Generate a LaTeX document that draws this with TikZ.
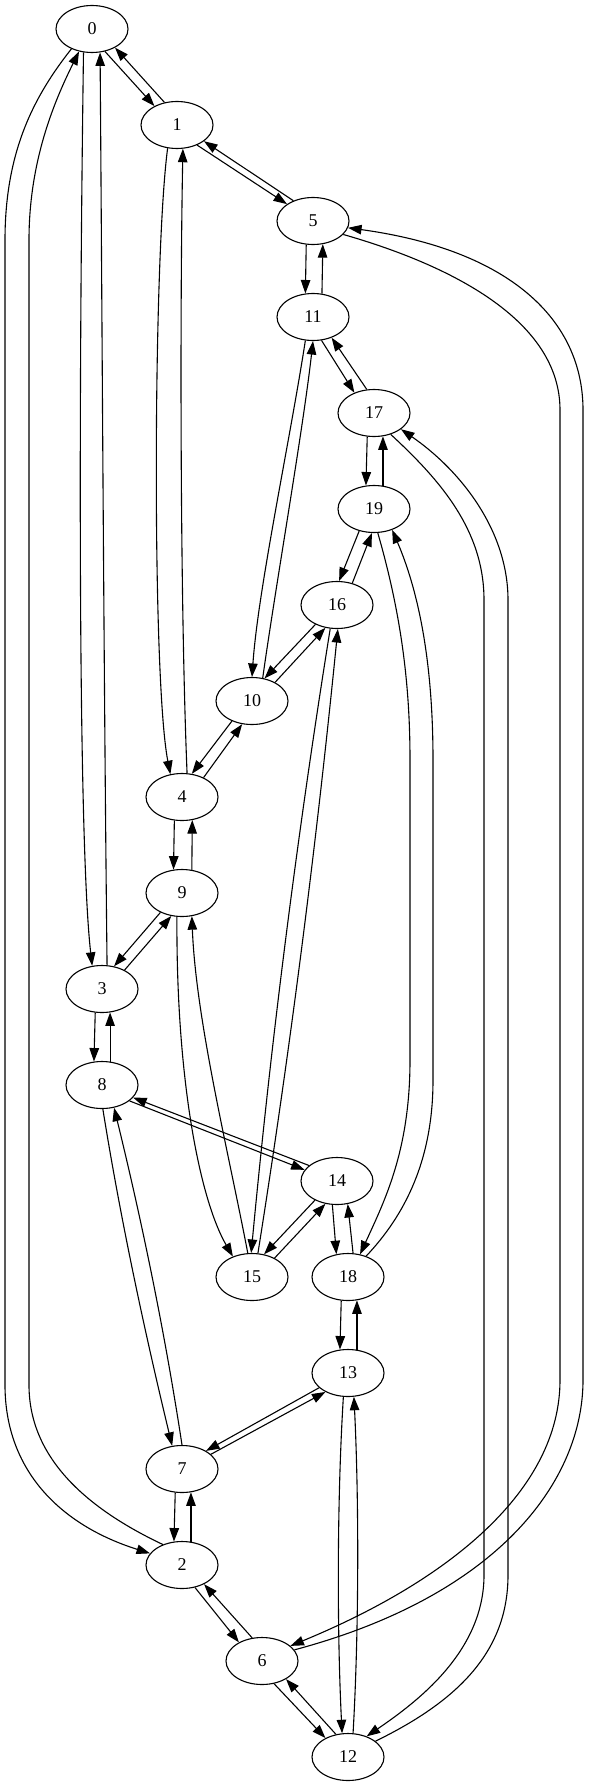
\documentclass[tikz,border=0pt]{standalone}
\usepackage{fontspec}
\setmainfont{Liberation Serif}
\usetikzlibrary{arrows.meta,shapes.geometric}
\begin{document}
\begin{tikzpicture}[x=1pt,y=-1pt,
  vtx/.style={draw,ellipse,minimum width=72pt,minimum height=47pt,inner sep=0pt,line width=1.1pt,font=\fontsize{18}{20}\selectfont},
  e/.style={draw,line width=1.1pt,-{Triangle[length=13.5pt,width=9.5pt]}}]
\useasboundingbox (0,0) rectangle (589,1787);
\node[vtx] (n0) at (92,29) {0};
\node[vtx] (n1) at (177,125) {1};
\node[vtx] (n5) at (313,221) {5};
\node[vtx] (n11) at (313,317) {11};
\node[vtx] (n17) at (374,413) {17};
\node[vtx] (n19) at (374,509) {19};
\node[vtx] (n16) at (337,605) {16};
\node[vtx] (n10) at (252,701) {10};
\node[vtx] (n4) at (182,797) {4};
\node[vtx] (n9) at (182,893) {9};
\node[vtx] (n3) at (102,989) {3};
\node[vtx] (n8) at (102,1085) {8};
\node[vtx] (n14) at (337,1181) {14};
\node[vtx] (n15) at (252,1277) {15};
\node[vtx] (n18) at (348,1277) {18};
\node[vtx] (n13) at (348,1373) {13};
\node[vtx] (n7) at (182,1469) {7};
\node[vtx] (n2) at (182,1565) {2};
\node[vtx] (n6) at (262,1661) {6};
\node[vtx] (n12) at (348,1757) {12};
% 0-1
\draw[e] (n0.-60) -- (n1.140);
\draw[e] (n1.119) -- (n0.-39);
% 0-3
\draw[e] (n0.-110) .. controls (78,450) and (79,850) .. (n3.113);
\draw[e] (n3.78) .. controls (104,700) and (102,300) .. (n0.-71);
% 0-2
\draw[e] (n0.-136) .. controls (35,95) and (5,150) .. (5,240) -- (5,1385) .. controls (5,1470) and (60,1525) .. (n2.160);
\draw[e] (n2.133) .. controls (90,1510) and (29,1460) .. (29,1385) -- (29,240) .. controls (29,160) and (55,100) .. (n0.-120);
% 1-5
\draw[e] (n1.-45) -- (n5.147);
\draw[e] (n5.134) -- (n1.-31);
% 1-4
\draw[e] (n1.-112) .. controls (153,260) and (152,680) .. (n4.117);
\draw[e] (n4.78) .. controls (180,600) and (180,300) .. (n1.-76);
% 5-11
\draw[e] (n5.-106) -- (n11.108);
\draw[e] (n11.69) -- (n5.-67);
% 5-6
\draw[e] (n5.-24) .. controls (450,265) and (560,320) .. (560,410) -- (560,1380) .. controls (560,1490) and (450,1580) .. (n6.28);
\draw[e] (n6.19) .. controls (500,1595) and (583,1480) .. (583,1380) -- (583,410) .. controls (583,320) and (510,250) .. (n5.-11);
% 11-17
\draw[e] (n11.-70) -- (n17.134);
\draw[e] (n17.107) -- (n11.-48);
% 11-10
\draw[e] (n11.-108) .. controls (290,440) and (258,590) .. (n10.90);
\draw[e] (n10.65) .. controls (275,590) and (303,430) .. (n11.-90);
% 17-19
\draw[e] (n17.-106) -- (n19.109);
\draw[e] (n19.69) -- (n17.-69);
% 17-12
\draw[e] (n17.-52) .. controls (440,480) and (484,530) .. (484,600) -- (484,1575) .. controls (484,1650) and (420,1700) .. (n12.48);
\draw[e] (n12.30) .. controls (460,1700) and (508,1650) .. (508,1575) -- (508,600) .. controls (508,530) and (460,470) .. (n17.-31);
% 19-16
\draw[e] (n19.-124) -- (n16.85);
\draw[e] (n16.55) -- (n19.-95);
% 19-18
\draw[e] (n19.-81) .. controls (400,610) and (410,680) .. (410,760) -- (410,1060) .. controls (410,1150) and (385,1200) .. (n18.62);
\draw[e] (n18.49) .. controls (405,1215) and (433,1160) .. (433,1080) -- (433,760) .. controls (433,660) and (418,590) .. (n19.-49);
% 16-10
\draw[e] (n16.-138) -- (n10.61);
\draw[e] (n10.39) -- (n16.-117);
% 16-15
\draw[e] (n16.-106) .. controls (297,836) and (271,1042) .. (n15.92);
\draw[e] (n15.76) .. controls (291,1045) and (317,838) .. (n16.-88);
% 10-4
\draw[e] (n10.-135) -- (n4.67);
\draw[e] (n4.42) -- (n10.-113);
% 4-9
\draw[e] (n4.-108) -- (n9.110);
\draw[e] (n9.67) -- (n4.-66);
% 9-3
\draw[e] (n9.-138) -- (n3.62);
\draw[e] (n3.40) -- (n9.-115);
% 9-15
\draw[e] (n9.-102) .. controls (176,1080) and (200,1200) .. (n15.133);
\draw[e] (n15.100) .. controls (228,1150) and (196,1020) .. (n9.-67);
% 3-8
\draw[e] (n3.-106) -- (n8.109);
\draw[e] (n8.71) -- (n3.-71);
% 8-14
\draw[e] (n8.-30) -- (n14.161);
\draw[e] (n14.151) -- (n8.-22);
% 8-7
\draw[e] (n8.-88) .. controls (121,1222) and (145,1333) .. (n7.113);
\draw[e] (n7.90) .. controls (165,1333) and (142,1222) .. (n8.-62);
% 14-15
\draw[e] (n14.-139) -- (n15.62);
\draw[e] (n15.40) -- (n14.-117);
% 14-18
\draw[e] (n14.-101) -- (n18.117);
\draw[e] (n18.78) -- (n14.-65);
% 18-13
\draw[e] (n18.-106) -- (n13.109);
\draw[e] (n13.69) -- (n18.-69);
% 13-7
\draw[e] (n13.-153) -- (n7.37);
\draw[e] (n7.27) -- (n13.-140);
% 13-12
\draw[e] (n13.-101) .. controls (337,1500) and (337,1630) .. (n12.104);
\draw[e] (n12.78) .. controls (359,1630) and (359,1500) .. (n13.-76);
% 7-2
\draw[e] (n7.-106) -- (n2.109);
\draw[e] (n2.69) -- (n7.-69);
% 2-6
\draw[e] (n2.-60) -- (n6.141);
\draw[e] (n6.113) -- (n2.-41);
% 6-12
\draw[e] (n6.-62) -- (n12.140);
\draw[e] (n12.118) -- (n6.-37);
\end{tikzpicture}
\end{document}
